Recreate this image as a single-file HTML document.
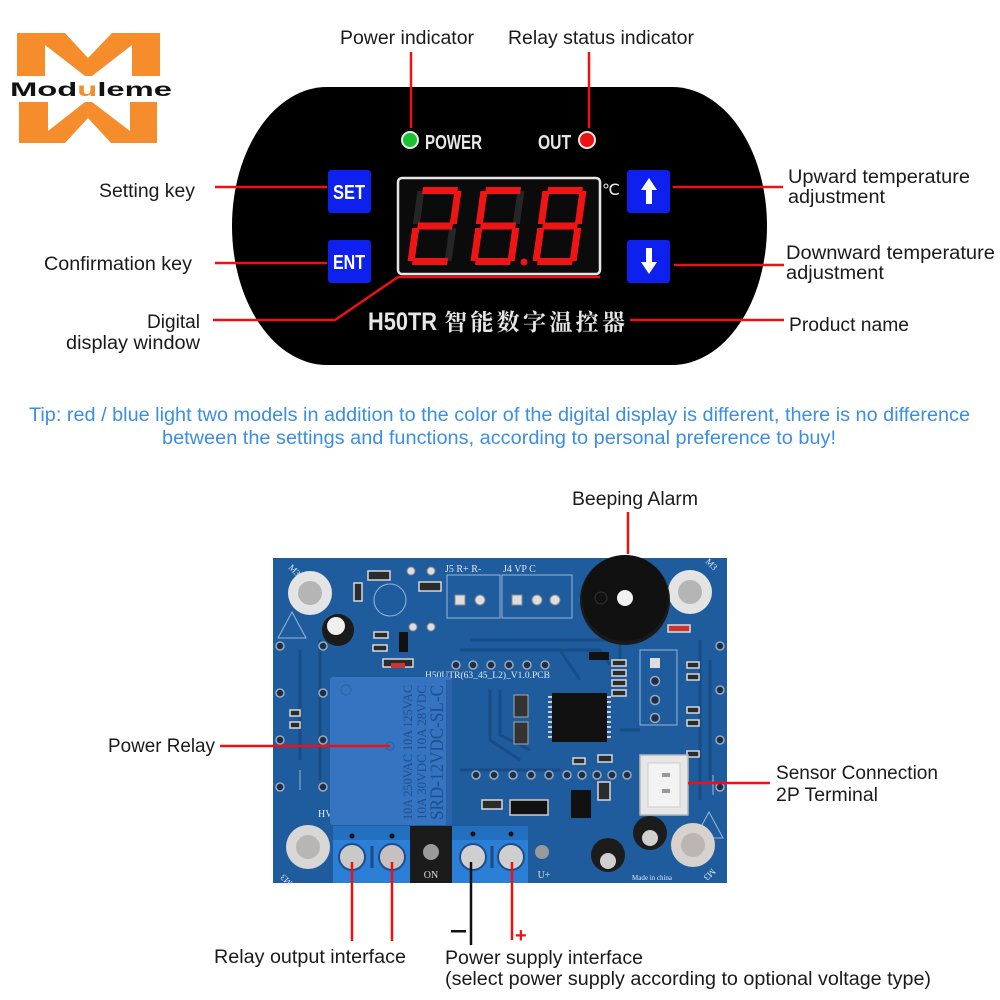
<!DOCTYPE html>
<html><head><meta charset="utf-8"><style>
html,body{margin:0;padding:0;background:#fff;}
svg{display:block;}
.lb{font-family:"Liberation Sans",sans-serif;font-size:19px;fill:#1a1a1a;}
.tip{font-family:"Liberation Sans",sans-serif;font-size:19px;fill:#3b8ee3;}
.pcbt{font-family:"Liberation Serif",serif;fill:#dfe9f5;}
</style></head><body>
<svg width="1000" height="1000" viewBox="0 0 1000 1000" xmlns="http://www.w3.org/2000/svg">
<rect width="1000" height="1000" fill="#fff"/>

<!-- Logo -->
<polygon fill="#f58d2d" points="17,33 65,33 88,58 112,33 160,33 160,76 132,76 132,45 92,76 85,76 45,45 45,76 17,76"/>
<polygon fill="#f58d2d" points="19,143 65,143 88,118 111,143 157,143 157,102 130,102 130,131 92,102 85,102 48,131 48,102 19,102"/>
<text x="10" y="96" font-family="Liberation Sans, sans-serif" font-size="19" font-weight="bold" textLength="162" lengthAdjust="spacingAndGlyphs" fill="#111">Mod<tspan fill="#f58d2d">u</tspan>leme</text>

<!-- Black panel -->
<path d="M327,87 H672 A95,139 0 0 1 672,365 H327 A95,139 0 0 1 327,87 Z" fill="#000"/>

<!-- LEDs -->
<circle cx="410" cy="140" r="8" fill="#19c235" stroke="#e8e8e8" stroke-width="2"/>
<text x="425" y="149" font-family="Liberation Sans Narrow, Liberation Sans, sans-serif" font-size="20" font-weight="bold" fill="#e8e8e8" textLength="57" lengthAdjust="spacingAndGlyphs">POWER</text>
<text x="538" y="149" font-family="Liberation Sans Narrow, Liberation Sans, sans-serif" font-size="20" font-weight="bold" fill="#e8e8e8" textLength="33" lengthAdjust="spacingAndGlyphs">OUT</text>
<circle cx="587" cy="140" r="8" fill="#ee1111" stroke="#e8e8e8" stroke-width="2"/>

<!-- Buttons -->
<rect x="328" y="170" width="43" height="43" rx="3" fill="#0d20ee"/>
<text x="349" y="199" text-anchor="middle" font-family="Liberation Sans, sans-serif" font-size="20" font-weight="bold" fill="#fff" textLength="32" lengthAdjust="spacingAndGlyphs">SET</text>
<rect x="328" y="240" width="43" height="43" rx="3" fill="#0d20ee"/>
<text x="349" y="269" text-anchor="middle" font-family="Liberation Sans, sans-serif" font-size="20" font-weight="bold" fill="#fff" textLength="32" lengthAdjust="spacingAndGlyphs">ENT</text>
<rect x="627" y="170" width="43" height="43" rx="3" fill="#0d20ee"/>
<polygon fill="#fff" points="649,178 657,190 652,190 652,204 646,204 646,190 641,190"/>
<rect x="627" y="240" width="43" height="43" rx="3" fill="#0d20ee"/>
<polygon fill="#fff" points="649,274 657,262 652,262 652,248 646,248 646,262 641,262"/>

<!-- Display -->
<rect x="398" y="178" width="202" height="96" rx="4" fill="#0b0b0b" stroke="#e6e6e6" stroke-width="2.5"/>
<text x="602" y="195" font-family="Liberation Sans, sans-serif" font-size="16" fill="#e8e8e8">℃</text>
<g transform="translate(418,187) skewX(-8)">
  <g fill="#262626"><rect x="5" y="0" width="35" height="7"/><rect x="37" y="4" width="7" height="33"/><rect x="37" y="41" width="7" height="33"/><rect x="5" y="71" width="35" height="7"/><rect x="0" y="41" width="7" height="33"/><rect x="0" y="4" width="7" height="33"/><rect x="5" y="35.5" width="35" height="7"/></g>
  <g fill="#f01515"><rect x="5" y="0" width="35" height="7"/><rect x="37" y="4" width="7" height="33"/><rect x="5" y="35.5" width="35" height="7"/><rect x="0" y="41" width="7" height="33"/><rect x="5" y="71" width="35" height="7"/></g>
</g>
<g transform="translate(481,187) skewX(-8)">
  <g fill="#262626"><rect x="5" y="0" width="35" height="7"/><rect x="37" y="4" width="7" height="33"/><rect x="37" y="41" width="7" height="33"/><rect x="5" y="71" width="35" height="7"/><rect x="0" y="41" width="7" height="33"/><rect x="0" y="4" width="7" height="33"/><rect x="5" y="35.5" width="35" height="7"/></g>
  <g fill="#f01515"><rect x="5" y="0" width="35" height="7"/><rect x="0" y="4" width="7" height="33"/><rect x="5" y="35.5" width="35" height="7"/><rect x="0" y="41" width="7" height="33"/><rect x="37" y="41" width="7" height="33"/><rect x="5" y="71" width="35" height="7"/></g>
</g>
<circle cx="524" cy="262" r="3.5" fill="#f01515"/>
<g transform="translate(543,187) skewX(-8)">
  <g fill="#f01515"><rect x="5" y="0" width="35" height="7"/><rect x="37" y="4" width="7" height="33"/><rect x="37" y="41" width="7" height="33"/><rect x="5" y="71" width="35" height="7"/><rect x="0" y="41" width="7" height="33"/><rect x="0" y="4" width="7" height="33"/><rect x="5" y="35.5" width="35" height="7"/></g>
</g>

<!-- Product name -->
<text x="368" y="330" font-family="Liberation Sans, sans-serif" font-size="25" font-weight="bold" fill="#e6e6e6" textLength="69" lengthAdjust="spacingAndGlyphs">H50TR</text>
<text x="444" y="330" font-family="Liberation Serif, 'Noto Serif CJK SC', serif" font-size="23" font-weight="bold" fill="#e6e6e6" textLength="181" lengthAdjust="spacing">智能数字温控器</text>

<!-- Top red connectors -->
<g stroke="#ee1111" stroke-width="2.5" fill="none">
  <line x1="411" y1="52" x2="411" y2="128"/>
  <line x1="589" y1="52" x2="589" y2="128"/>
  <line x1="215" y1="187" x2="327" y2="187"/>
  <line x1="215" y1="263" x2="327" y2="263"/>
  <polyline points="213,320 335,320 398,277 600,277"/>
  <line x1="673" y1="187" x2="783" y2="187"/>
  <line x1="674" y1="265" x2="784" y2="265"/>
  <line x1="630" y1="320" x2="784" y2="320"/>
</g>

<!-- Top labels -->
<text class="lb" x="340" y="44" textLength="134" lengthAdjust="spacingAndGlyphs">Power indicator</text>
<text class="lb" x="508" y="44" textLength="186" lengthAdjust="spacingAndGlyphs">Relay status indicator</text>
<text class="lb" x="99" y="197" textLength="96" lengthAdjust="spacingAndGlyphs">Setting key</text>
<text class="lb" x="44" y="270" textLength="148" lengthAdjust="spacingAndGlyphs">Confirmation key</text>
<text class="lb" x="147" y="328" textLength="53" lengthAdjust="spacingAndGlyphs">Digital</text>
<text class="lb" x="66" y="349" textLength="134" lengthAdjust="spacingAndGlyphs">display window</text>
<text class="lb" x="788" y="183" textLength="182" lengthAdjust="spacingAndGlyphs">Upward temperature</text>
<text class="lb" x="788" y="203" textLength="97" lengthAdjust="spacingAndGlyphs">adjustment</text>
<text class="lb" x="786" y="259" textLength="209" lengthAdjust="spacingAndGlyphs">Downward temperature</text>
<text class="lb" x="786" y="279" textLength="98" lengthAdjust="spacingAndGlyphs">adjustment</text>
<text class="lb" x="789" y="331" textLength="120" lengthAdjust="spacingAndGlyphs">Product name</text>

<!-- Tip -->
<text class="tip" x="29" y="421" textLength="941" lengthAdjust="spacingAndGlyphs">Tip: red / blue light two models in addition to the color of the digital display is different, there is no difference</text>
<text class="tip" x="162" y="444" textLength="674" lengthAdjust="spacingAndGlyphs">between the settings and functions, according to personal preference to buy!</text>

<!-- PCB -->
<rect x="273" y="558" width="454" height="325" fill="#1f5c9e"/>
<g stroke="#174b85" stroke-width="3" fill="none" opacity="0.9">
  <path d="M470,640 H620 V660"/><path d="M460,650 H600 L610,665"/><path d="M490,690 V740 L520,760"/>
  <path d="M500,690 V735 L530,750"/><path d="M300,650 V760"/><path d="M320,640 V780"/>
  <path d="M560,650 L580,680"/><path d="M620,730 H640"/><path d="M460,770 H560"/>
  <path d="M700,640 V800"/><path d="M710,660 V780"/>
</g>
<g stroke="#b9cde6" stroke-width="1" fill="none" opacity="0.8">
  <path d="M447,575 H500 V618 H447 Z"/><path d="M502,575 H572 V618 H502 Z"/>
  <path d="M640,650 H677 V725 H640 Z"/><path d="M292,612 L306,638 H278 Z"/><path d="M709,812 L695,838 H723 Z"/>
  <circle cx="390" cy="600" r="16"/><path d="M300,770 V790"/><path d="M713,775 V795"/>
</g>
<!-- mounting holes -->
<g>
  <circle cx="310" cy="593" r="22" fill="#e4e4e4"/><circle cx="310" cy="593" r="12" fill="#b5b5b5"/>
  <circle cx="690" cy="592" r="22" fill="#e4e4e4"/><circle cx="690" cy="592" r="12" fill="#b5b5b5"/>
  <circle cx="308" cy="847" r="22" fill="#d9d6d6"/><circle cx="308" cy="847" r="12" fill="#b8b5b5"/>
  <circle cx="693" cy="845" r="22" fill="#d8d2ce"/><circle cx="693" cy="845" r="12" fill="#bcb6b2"/>
</g>
<!-- buzzer -->
<circle cx="625" cy="600" r="45" fill="#1a1a1a"/>
<circle cx="625" cy="598" r="43" fill="#111"/>
<circle cx="625" cy="598" r="8" fill="#f2f2f2"/>
<circle cx="601" cy="598" r="6" fill="none" stroke="#333" stroke-width="1"/>
<!-- pads connectors top -->
<g fill="#ddd" stroke="#888" stroke-width="1">
  <rect x="455" y="595" width="10" height="10"/><circle cx="480" cy="600" r="5"/>
  <rect x="512" y="595" width="10" height="10"/><circle cx="537" cy="600" r="5"/><circle cx="555" cy="600" r="5"/>
  <circle cx="411" cy="571" r="4"/><circle cx="431" cy="571" r="4"/><circle cx="413" cy="627" r="4"/><circle cx="431" cy="627" r="4"/>
</g>
<text class="pcbt" x="445" y="572" font-size="10">J5 R+ R-</text>
<text class="pcbt" x="503" y="572" font-size="10">J4 VP C</text>
<text class="pcbt" x="425" y="678" font-size="9.5" textLength="125" lengthAdjust="spacingAndGlyphs">H50UTR(63_45_L2)_V1.0.PCB</text>
<text class="pcbt" x="288" y="568" font-size="9" transform="rotate(45 288 568)">M3</text>
<text class="pcbt" x="705" y="562" font-size="9" transform="rotate(45 705 562)">M3</text>
<text class="pcbt" x="282" y="870" font-size="9" transform="rotate(-135 290 874)">M3</text>
<text class="pcbt" x="712" y="868" font-size="9" transform="rotate(135 712 868)">M3</text>
<text class="pcbt" x="318" y="817" font-size="10">HV</text>
<text class="pcbt" x="632" y="880" font-size="7">Made in china</text>
<!-- SMD parts -->
<g fill="#2b2b2b" stroke="#d8d8d8" stroke-width="1.5">
  <rect x="368" y="571" width="22" height="9"/><rect x="419" y="582" width="22" height="9"/>
  <rect x="354" y="583" width="8" height="18"/><rect x="374" y="632" width="14" height="6"/>
  <rect x="373" y="645" width="14" height="6"/><rect x="383" y="659" width="30" height="8"/>
  <rect x="612" y="660" width="14" height="6"/><rect x="612" y="670" width="14" height="6"/>
  <rect x="612" y="680" width="14" height="6"/><rect x="612" y="690" width="14" height="6"/>
  <rect x="687" y="662" width="12" height="6"/><rect x="687" y="674" width="12" height="6"/>
  <rect x="687" y="707" width="12" height="6"/><rect x="687" y="720" width="12" height="6"/>
  <rect x="687" y="751" width="12" height="6"/><rect x="290" y="710" width="10" height="6"/><rect x="290" y="722" width="10" height="6"/>
  <rect x="482" y="800" width="20" height="9"/><rect x="598" y="782" width="12" height="18"/>
  <rect x="573" y="758" width="12" height="6"/><rect x="598" y="755" width="14" height="7"/>
</g>
<rect x="668" y="625" width="22" height="7" fill="#c33" stroke="#ddd" stroke-width="1.5"/>
<rect x="391" y="663" width="14" height="5" fill="#c33"/>
<rect x="399" y="632" width="9" height="20" fill="#111"/>
<rect x="589" y="652" width="20" height="8" fill="#111"/>
<rect x="510" y="800" width="38" height="15" fill="#111" stroke="#ccc" stroke-width="1.5"/>
<rect x="571" y="790" width="20" height="28" fill="#111"/>
<!-- chip -->
<rect x="552" y="693" width="55" height="49" fill="#111"/>
<g stroke="#cfcfcf" stroke-width="2">
  <path d="M548,697 H552 M548,702 H552 M548,707 H552 M548,712 H552 M548,717 H552 M548,722 H552 M548,727 H552 M548,732 H552 M548,737 H552"/>
  <path d="M607,697 H611 M607,702 H611 M607,707 H611 M607,712 H611 M607,717 H611 M607,722 H611 M607,727 H611 M607,732 H611 M607,737 H611"/>
</g>
<rect x="514" y="695" width="14" height="22" fill="#333" stroke="#aaa"/><rect x="514" y="722" width="14" height="22" fill="#333" stroke="#aaa"/>
<!-- header pads -->
<g fill="#1d2f45" stroke="#9aaabb" stroke-width="1.5">
  <circle cx="456" cy="665" r="4"/><circle cx="473" cy="665" r="4"/><circle cx="491" cy="665" r="4"/>
  <circle cx="509" cy="665" r="4"/><circle cx="527" cy="665" r="4"/><circle cx="545" cy="665" r="4"/>
  <circle cx="476" cy="775" r="4"/><circle cx="494" cy="775" r="4"/><circle cx="513" cy="775" r="4"/><circle cx="531" cy="775" r="4"/><circle cx="549" cy="775" r="4"/>
  <circle cx="567" cy="775" r="4"/><circle cx="582" cy="775" r="4"/><circle cx="597" cy="775" r="4"/><circle cx="612" cy="775" r="4"/><circle cx="627" cy="775" r="4"/>
  <circle cx="655" cy="681" r="4.5"/><circle cx="655" cy="700" r="4.5"/><circle cx="655" cy="718" r="4.5"/>
  <circle cx="280" cy="646" r="4"/><circle cx="323" cy="646" r="4"/><circle cx="280" cy="693" r="4"/><circle cx="323" cy="693" r="4"/>
  <circle cx="280" cy="740" r="4"/><circle cx="323" cy="740" r="4"/><circle cx="280" cy="787" r="4"/><circle cx="323" cy="787" r="4"/>
  <circle cx="720" cy="646" r="4"/><circle cx="720" cy="690" r="4"/><circle cx="720" cy="740" r="4"/><circle cx="720" cy="787" r="4"/>
</g>
<rect x="650" y="658" width="10" height="10" fill="#ddd"/>
<!-- capacitors -->
<circle cx="338" cy="630" r="16" fill="#1a1a1a"/><circle cx="336" cy="626" r="9" fill="#f0f0f0"/>
<circle cx="608" cy="855" r="17" fill="#1c1c1c"/><circle cx="608" cy="861" r="8" fill="#cfcfcf"/>
<circle cx="650" cy="833" r="17" fill="#1c1c1c"/><circle cx="650" cy="838" r="8" fill="#d0d0d0"/>
<!-- relay -->
<rect x="330" y="677" width="122" height="148" rx="3" fill="#3574c1"/>
<rect x="446" y="680" width="6" height="145" fill="#2a62a8"/>
<circle cx="346" cy="690" r="5" fill="none" stroke="#2d67ad" stroke-width="1.5"/>
<circle cx="390" cy="746" r="4" fill="none" stroke="#2d67ad" stroke-width="1.5"/>
<g font-family="Liberation Serif, serif" fill="#1f4e8c">
  <text transform="translate(412,820) rotate(-90)" font-size="13" textLength="135" lengthAdjust="spacingAndGlyphs">10A 250VAC  10A 125VAC</text>
  <text transform="translate(426,820) rotate(-90)" font-size="13" textLength="135" lengthAdjust="spacingAndGlyphs">10A  30VDC  10A  28VDC</text>
  <text transform="translate(443,820) rotate(-90)" font-size="19" textLength="135" lengthAdjust="spacingAndGlyphs">SRD-12VDC-SL-C</text>
</g>
<!-- white 2P connector -->
<rect x="640" y="755" width="48" height="60" fill="#e6e6e6" stroke="#b5b5b5" stroke-width="1.5"/>
<rect x="648" y="763" width="32" height="44" fill="#f3f3f3" stroke="#ccc"/>
<rect x="662" y="773" width="8" height="4" fill="#999"/><rect x="662" y="789" width="8" height="4" fill="#999"/>
<!-- terminal blocks -->
<rect x="333" y="826" width="77" height="57" fill="#2c7fd6"/>
<rect x="333" y="826" width="77" height="14" fill="#2470c0"/>
<circle cx="352" cy="836" r="2.5" fill="#111"/><circle cx="392" cy="836" r="2.5" fill="#111"/>
<circle cx="352" cy="857" r="13" fill="#c9c9c9" stroke="#1c4f8a" stroke-width="2"/>
<circle cx="392" cy="857" r="13" fill="#c8bfc0" stroke="#1c4f8a" stroke-width="2"/>
<line x1="372" y1="846" x2="372" y2="868" stroke="#1b4a82" stroke-width="3"/>
<rect x="410" y="826" width="42" height="57" fill="#1b1b1b"/>
<circle cx="431" cy="852" r="8" fill="#9a9a9a"/>
<text x="431" y="878" text-anchor="middle" font-family="Liberation Serif, serif" font-size="10" fill="#ddd">ON</text>
<rect x="452" y="826" width="76" height="57" fill="#2c7fd6"/>
<rect x="452" y="826" width="76" height="14" fill="#2470c0"/>
<circle cx="473" cy="834" r="2.5" fill="#111"/><circle cx="511" cy="834" r="2.5" fill="#111"/>
<circle cx="473" cy="857" r="13" fill="#cfcfcf" stroke="#1c4f8a" stroke-width="2"/>
<circle cx="511" cy="857" r="13" fill="#cfcfcf" stroke="#1c4f8a" stroke-width="2"/>
<line x1="492" y1="846" x2="492" y2="868" stroke="#1b4a82" stroke-width="3"/>
<circle cx="542" cy="852" r="7" fill="#9a9a9a"/>
<text x="544" y="878" text-anchor="middle" font-family="Liberation Serif, serif" font-size="10" fill="#ddd">U+</text>

<!-- Bottom connectors -->
<g stroke="#ee1111" stroke-width="2.5" fill="none">
  <line x1="628" y1="512" x2="628" y2="554"/>
  <line x1="220" y1="746" x2="390" y2="746"/>
  <line x1="688" y1="783" x2="770" y2="783"/>
  <line x1="352" y1="862" x2="352" y2="941"/>
  <line x1="392" y1="862" x2="392" y2="941"/>
  <line x1="512" y1="862" x2="512" y2="940"/>
</g>
<line x1="471" y1="862" x2="471" y2="945" stroke="#111" stroke-width="2.5"/>
<rect x="451" y="930" width="15" height="2.5" fill="#111"/>
<text x="515" y="942" font-family="Liberation Sans, sans-serif" font-size="20" font-weight="bold" fill="#ee1111">+</text>

<!-- Bottom labels -->
<text class="lb" x="572" y="505" textLength="126" lengthAdjust="spacingAndGlyphs">Beeping Alarm</text>
<text class="lb" x="108" y="752" textLength="107" lengthAdjust="spacingAndGlyphs">Power Relay</text>
<text class="lb" x="776" y="779" textLength="162" lengthAdjust="spacingAndGlyphs">Sensor Connection</text>
<text class="lb" x="776" y="801" textLength="102" lengthAdjust="spacingAndGlyphs">2P Terminal</text>
<text class="lb" x="214" y="963" textLength="192" lengthAdjust="spacingAndGlyphs">Relay output interface</text>
<text class="lb" x="445" y="964" textLength="198" lengthAdjust="spacingAndGlyphs">Power supply interface</text>
<text class="lb" x="445" y="985" textLength="486" lengthAdjust="spacingAndGlyphs">(select power supply according to optional voltage type)</text>
</svg>
</body></html>
